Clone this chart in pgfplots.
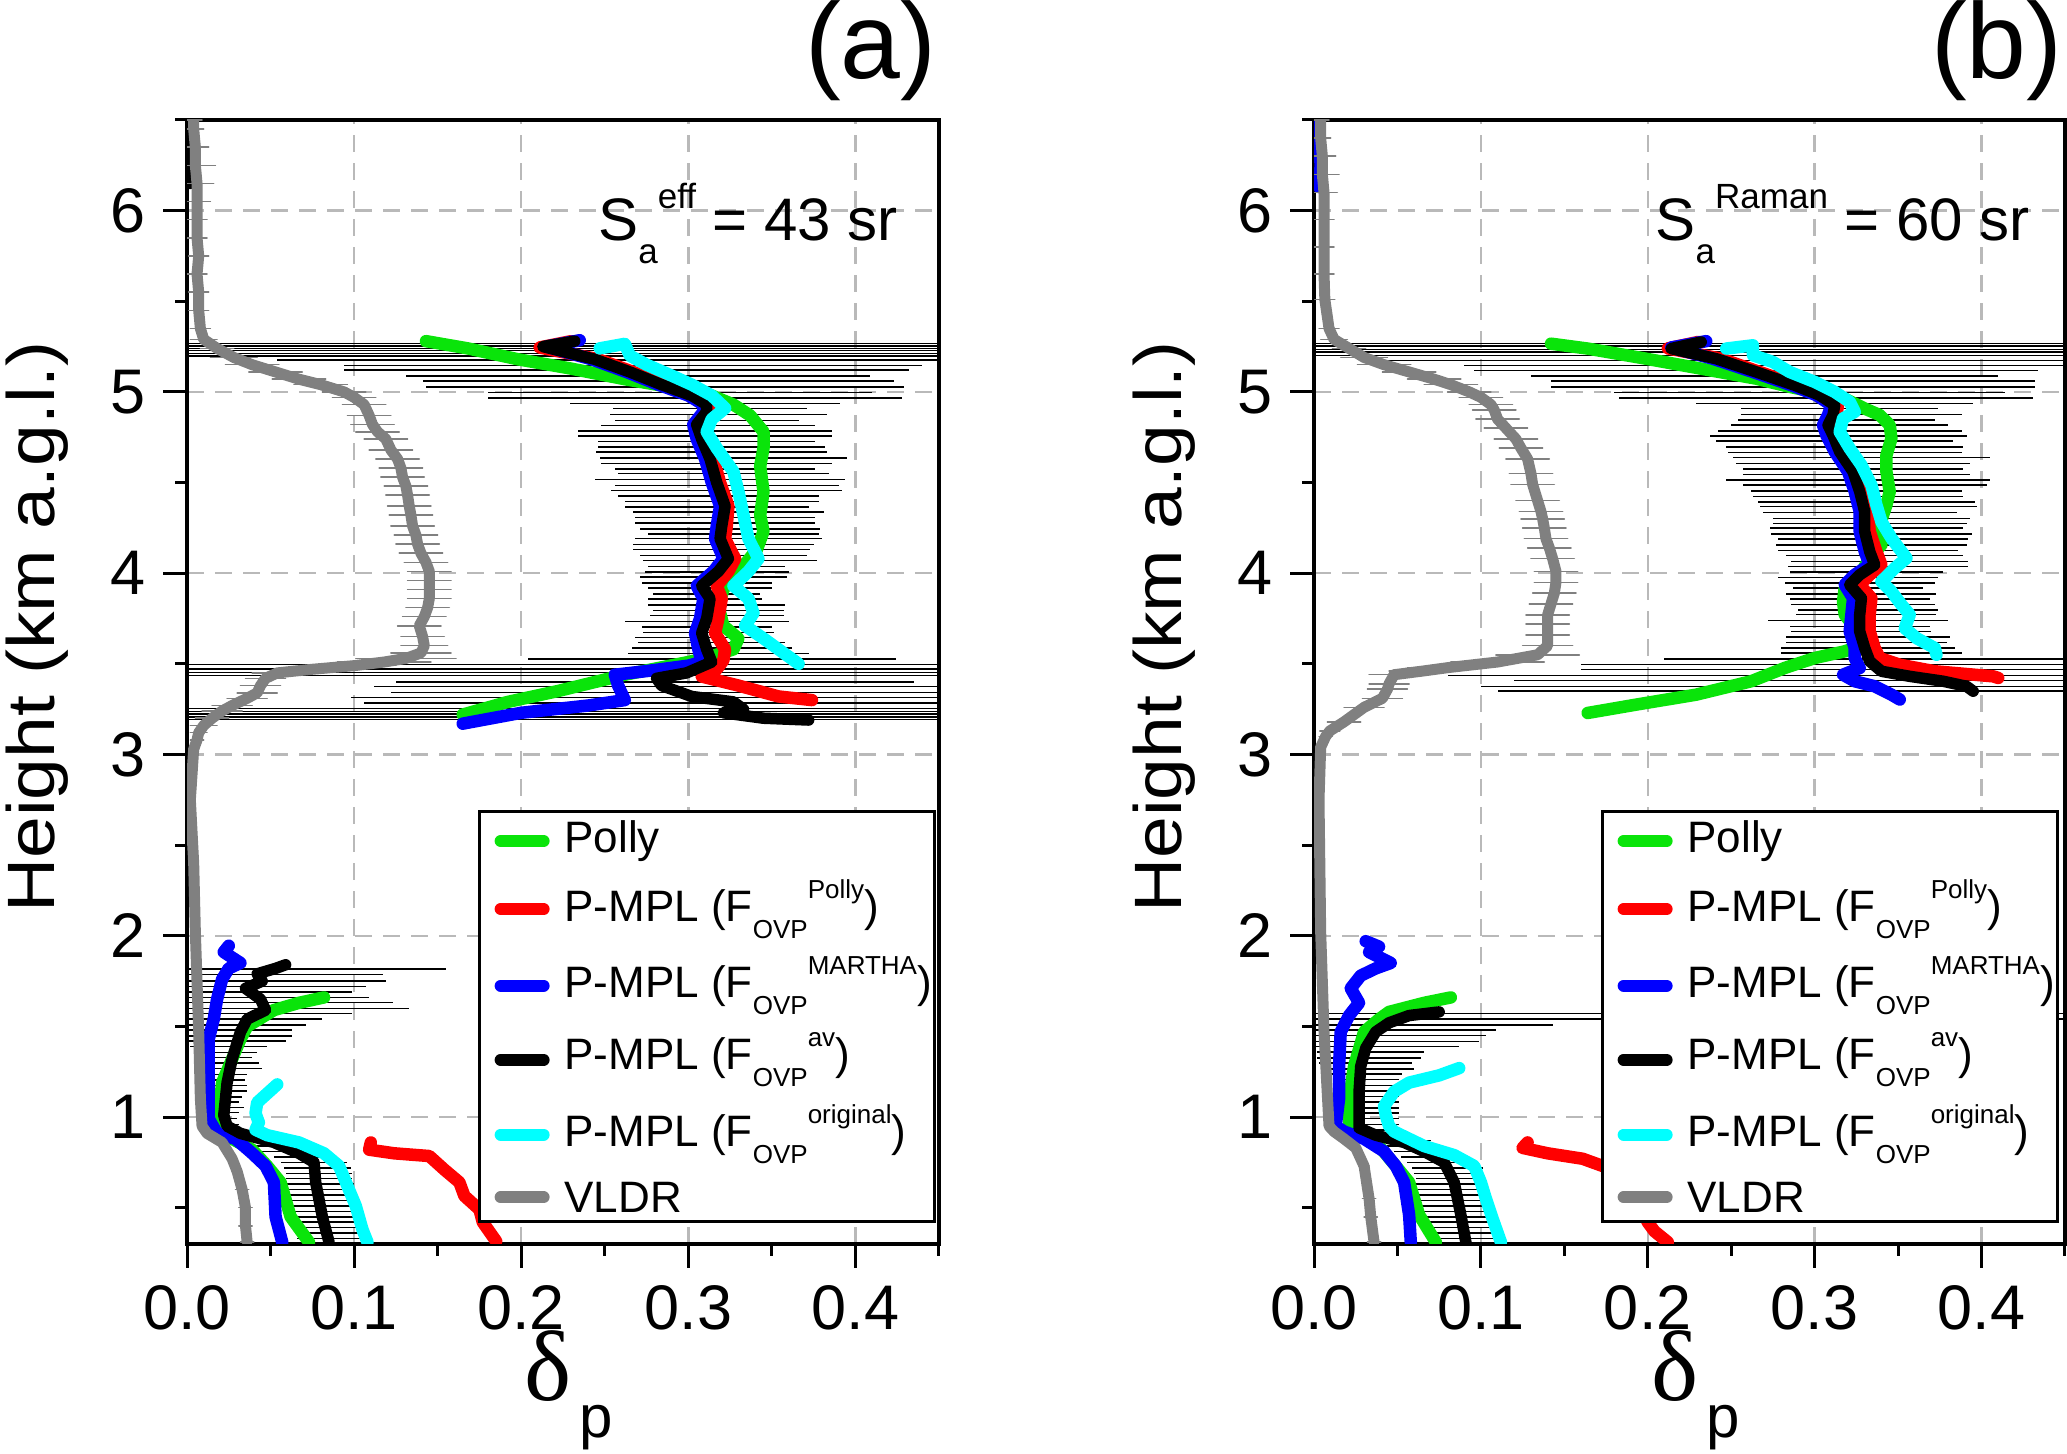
\documentclass[border=0pt]{standalone}
\usepackage{fontspec}
\setmainfont{Liberation Sans}
\newfontfamily\serifdelta{Liberation Serif}
\usepackage{graphicx}
\usepackage{pgfplots}
\usepackage{pgfplotstable}
\pgfplotsset{compat=1.18}

\definecolor{cgreen}{RGB}{10,228,10}
\definecolor{cred}{RGB}{255,0,0}
\definecolor{cblue}{RGB}{0,0,255}
\definecolor{ccyan}{RGB}{0,255,255}
\definecolor{cgray}{RGB}{128,128,128}
\definecolor{gridgray}{RGB}{185,185,185}

\newcommand{\lsub}[1]{\raisebox{-3.4pt}{\fontsize{5.2}{6}\selectfont #1}}
\newcommand{\lsup}[1]{\raisebox{4.6pt}{\fontsize{5.2}{6}\selectfont #1}}
\newcommand{\asub}[1]{\raisebox{-4.6pt}{\fontsize{7}{8}\selectfont #1}}
\newcommand{\asup}[1]{\raisebox{6.4pt}{\fontsize{7}{8}\selectfont #1}}

% ---------------- panel (a) data ----------------
\pgfplotstableread{
x y
0.143 5.28
0.168 5.24
0.198 5.18
0.229 5.13
0.262 5.07
0.281 5.04
0.314 4.98
0.327 4.93
0.337 4.87
0.345 4.78
0.345 4.69
0.343 4.59
0.345 4.45
0.343 4.32
0.345 4.23
0.341 4.13
0.333 4.04
0.327 3.99
0.321 3.91
0.318 3.82
0.321 3.71
0.330 3.64
0.327 3.58
0.310 3.53
0.300 3.51
0.262 3.44
0.222 3.35
0.192 3.29
0.165 3.22
nan nan
0.082 1.66
0.067 1.63
0.052 1.59
0.036 1.50
0.032 1.43
0.027 1.32
0.021 1.19
0.019 1.01
0.021 0.91
0.039 0.82
0.048 0.73
0.056 0.64
0.062 0.45
0.073 0.31
}\greenA

\pgfplotstableread{
x y
0.230 5.28
0.211 5.245
0.246 5.18
0.267 5.11
0.286 5.04
0.304 4.98
0.313 4.93
0.313 4.89
0.307 4.82
0.310 4.74
0.315 4.63
0.319 4.50
0.324 4.37
0.323 4.26
0.322 4.19
0.328 4.08
0.324 4.01
0.317 3.93
0.320 3.86
0.318 3.75
0.316 3.67
0.322 3.58
0.321 3.52
0.317 3.47
0.308 3.43
0.330 3.38
0.354 3.32
0.374 3.30
nan nan
0.110 0.86
0.109 0.82
0.124 0.80
0.145 0.785
0.154 0.71
0.163 0.64
0.166 0.565
0.175 0.49
0.177 0.42
0.185 0.315
}\redA

\pgfplotstableread{
x y
0.235 5.285
0.215 5.25
0.242 5.18
0.263 5.11
0.282 5.04
0.300 4.98
0.309 4.93
0.309 4.89
0.303 4.82
0.305 4.74
0.310 4.63
0.314 4.50
0.319 4.37
0.317 4.26
0.316 4.19
0.321 4.08
0.315 4.01
0.305 3.93
0.309 3.86
0.307 3.75
0.304 3.67
0.306 3.58
0.308 3.51
0.300 3.49
0.275 3.46
0.256 3.44
0.258 3.38
0.262 3.30
0.240 3.27
0.200 3.23
0.165 3.17
nan nan
0.025 1.945
0.022 1.91
0.032 1.85
0.025 1.82
0.021 1.76
0.018 1.65
0.016 1.54
0.013 1.43
0.013 1.28
0.013 1.10
0.013 0.99
0.018 0.91
0.029 0.88
0.039 0.80
0.047 0.73
0.052 0.64
0.053 0.45
0.057 0.31
}\blueA

\pgfplotstableread{
x y
0.002 6.50
0.003 6.42
0.002 6.33
0.003 6.24
0.002 6.15
nan nan
0.232 5.28
0.213 5.25
0.244 5.18
0.265 5.11
0.284 5.04
0.302 4.98
0.311 4.93
0.311 4.89
0.305 4.82
0.308 4.74
0.313 4.63
0.317 4.50
0.322 4.37
0.320 4.26
0.319 4.19
0.324 4.08
0.318 4.01
0.308 3.93
0.313 3.86
0.311 3.75
0.308 3.67
0.311 3.58
0.314 3.51
0.299 3.45
0.281 3.42
0.284 3.38
0.302 3.32
0.327 3.29
0.333 3.25
0.321 3.23
0.345 3.20
0.372 3.19
nan nan
0.059 1.84
0.053 1.82
0.042 1.79
0.045 1.75
0.035 1.71
0.044 1.65
0.047 1.59
0.036 1.54
0.032 1.47
0.027 1.32
0.024 1.19
0.022 1.01
0.024 0.95
0.032 0.91
0.052 0.86
0.067 0.80
0.076 0.75
0.077 0.64
0.081 0.45
0.085 0.31
}\blackA

\pgfplotstableread{
x y
0.247 5.24
0.262 5.265
0.265 5.20
0.275 5.15
0.290 5.09
0.302 5.04
0.314 4.98
0.322 4.91
0.314 4.85
0.311 4.78
0.317 4.69
0.327 4.56
0.330 4.45
0.333 4.32
0.336 4.19
0.342 4.08
0.336 4.01
0.327 3.93
0.336 3.86
0.339 3.78
0.334 3.71
0.345 3.64
0.357 3.56
0.366 3.50
nan nan
0.054 1.18
0.048 1.13
0.042 1.08
0.041 1.02
0.043 0.97
0.041 0.93
0.048 0.90
0.067 0.86
0.082 0.80
0.091 0.73
0.096 0.62
0.101 0.51
0.105 0.38
0.108 0.31
}\cyanA

\pgfplotstableread{
x y e
0.036 0.31 0.004
0.035 0.40 0.004
0.035 0.50 0.004
0.033 0.60 0.004
0.030 0.70 0.003
0.027 0.77 0.003
0.021 0.86 0.003
0.012 0.91 0.002
0.009 0.95 0.002
0.008 1.10 0.002
0.007 1.47 0.002
0.005 2.02 0.002
0.004 2.40 0.002
0.002 2.75 0.002
0.004 3.03 0.003
0.006 3.08 0.004
0.007 3.12 0.005
0.010 3.16 0.008
0.015 3.20 0.010
0.021 3.24 0.012
0.027 3.27 0.012
0.036 3.31 0.012
0.042 3.34 0.012
0.044 3.38 0.012
0.047 3.42 0.012
0.054 3.45 0.015
0.075 3.47 0.020
0.100 3.49 0.025
0.118 3.51 0.028
0.131 3.53 0.030
0.140 3.56 0.018
0.142 3.60 0.014
0.141 3.65 0.013
0.139 3.71 0.013
0.142 3.76 0.013
0.144 3.81 0.013
0.145 3.86 0.013
0.145 3.91 0.013
0.145 3.96 0.013
0.145 4.01 0.013
0.143 4.06 0.013
0.140 4.11 0.013
0.138 4.16 0.013
0.137 4.21 0.013
0.135 4.26 0.013
0.134 4.32 0.013
0.133 4.37 0.013
0.132 4.43 0.013
0.131 4.48 0.013
0.129 4.53 0.013
0.128 4.58 0.013
0.126 4.63 0.013
0.122 4.68 0.013
0.119 4.74 0.013
0.114 4.78 0.013
0.111 4.82 0.013
0.109 4.87 0.013
0.106 4.93 0.013
0.100 4.97 0.013
0.094 5.00 0.013
0.080 5.04 0.016
0.067 5.07 0.016
0.053 5.11 0.016
0.039 5.15 0.016
0.028 5.19 0.014
0.018 5.24 0.010
0.010 5.29 0.008
0.008 5.35 0.006
0.007 5.45 0.006
0.007 5.55 0.006
0.006 5.65 0.006
0.007 5.75 0.006
0.006 5.85 0.006
0.006 5.95 0.006
0.006 6.05 0.008
0.006 6.15 0.010
0.005 6.25 0.012
0.005 6.35 0.008
0.004 6.45 0.006
0.004 6.50 0.005
}\grayA

\pgfplotstableread{
x y e
0.2 5.267 0.5
0.2 5.252 0.5
0.2 5.239 0.5
0.2 5.227 0.5
0.2 5.212 0.5
0.2 5.199 0.5
0.277 5.175 0.223
0.267 5.147 0.173
0.263 5.120 0.169
0.270 5.088 0.139
0.282 5.059 0.141
0.286 5.028 0.143
0.295 4.996 0.115
0.304 4.967 0.124
0.310 4.936 0.081
0.313 4.908 0.058
0.318 4.875 0.065
0.311 4.843 0.055
0.312 4.816 0.064
0.310 4.783 0.076
0.310 4.757 0.076
0.311 4.727 0.065
0.314 4.696 0.068
0.314 4.669 0.069
0.321 4.635 0.074
0.317 4.604 0.069
0.316 4.576 0.060
0.321 4.549 0.063
0.319 4.516 0.075
0.323 4.484 0.067
0.323 4.457 0.069
0.318 4.425 0.060
0.320 4.396 0.058
0.317 4.365 0.055
0.324 4.337 0.057
0.322 4.306 0.054
0.322 4.278 0.054
0.325 4.245 0.054
0.327 4.217 0.051
0.324 4.190 0.056
0.321 4.158 0.054
0.320 4.131 0.053
0.321 4.098 0.050
0.325 4.070 0.052
0.317 4.037 0.041
0.317 4.006 0.043
0.315 3.978 0.044
0.311 3.945 0.039
0.313 3.917 0.037
0.311 3.886 0.032
0.310 3.858 0.034
0.317 3.825 0.041
0.318 3.794 0.039
0.317 3.766 0.040
0.311 3.733 0.049
0.311 3.702 0.039
0.312 3.674 0.039
0.309 3.646 0.041
0.314 3.619 0.044
0.314 3.587 0.048
0.318 3.558 0.054
0.314 3.527 0.110
0.2 3.495 0.5
0.2 3.471 0.5
0.2 3.453 0.5
0.2 3.435 0.5
0.280 3.401 0.155
0.306 3.374 0.194
0.311 3.343 0.189
0.299 3.315 0.201
0.303 3.284 0.197
0.2 3.254 0.5
0.2 3.238 0.5
0.2 3.223 0.5
0.2 3.206 0.5
0.2 3.192 0.5
0.078 1.816 0.077
0.059 1.785 0.058
0.060 1.751 0.059
0.054 1.720 0.053
0.050 1.691 0.049
0.055 1.659 0.054
0.062 1.632 0.061
0.067 1.600 0.066
0.050 1.571 0.049
0.041 1.540 0.040
0.036 1.508 0.035
0.032 1.481 0.031
0.032 1.448 0.031
0.030 1.420 0.029
0.025 1.389 0.023
0.023 1.355 0.019
0.022 1.328 0.017
0.025 1.297 0.018
0.028 1.267 0.017
0.024 1.236 0.012
0.023 1.204 0.012
0.024 1.175 0.012
0.024 1.144 0.012
0.022 1.112 0.011
0.021 1.083 0.010
0.023 1.052 0.011
0.021 1.024 0.010
0.021 0.991 0.009
0.022 0.959 0.009
0.026 0.930 0.010
0.034 0.900 0.012
0.047 0.870 0.015
0.056 0.840 0.017
0.063 0.810 0.018
0.071 0.780 0.019
0.076 0.750 0.020
0.078 0.720 0.020
0.079 0.690 0.020
0.079 0.660 0.020
0.080 0.630 0.020
0.080 0.600 0.020
0.081 0.570 0.020
0.081 0.540 0.020
0.081 0.510 0.020
0.082 0.480 0.020
0.082 0.450 0.020
0.083 0.420 0.020
0.084 0.390 0.020
0.085 0.360 0.020
0.086 0.330 0.020
}\ebarA

% ---------------- panel (b) data ----------------
\pgfplotstableread{
x y
0.142 5.266
0.164 5.239
0.199 5.183
0.232 5.128
0.265 5.073
0.285 5.028
0.318 4.963
0.330 4.908
0.339 4.872
0.345 4.817
0.346 4.743
0.343 4.651
0.343 4.560
0.345 4.450
0.343 4.376
0.339 4.266
0.340 4.156
0.333 4.083
0.327 3.991
0.318 3.917
0.317 3.844
0.318 3.771
0.326 3.679
0.330 3.606
0.318 3.569
0.300 3.532
0.282 3.477
0.262 3.404
0.229 3.330
0.193 3.275
0.164 3.229
nan nan
0.082 1.66
0.066 1.63
0.045 1.58
0.039 1.54
0.030 1.47
0.024 1.28
0.021 1.10
0.021 0.95
0.024 0.92
0.039 0.84
0.049 0.73
0.057 0.64
0.063 0.46
0.073 0.31
}\greenB

\pgfplotstableread{
x y
0.230 5.275
0.212 5.240
0.244 5.183
0.267 5.110
0.290 5.037
0.305 4.982
0.314 4.927
0.313 4.872
0.310 4.817
0.313 4.761
0.317 4.670
0.325 4.560
0.329 4.450
0.332 4.339
0.333 4.229
0.337 4.119
0.340 4.046
0.333 3.991
0.327 3.936
0.334 3.862
0.333 3.771
0.333 3.679
0.336 3.587
0.339 3.532
0.351 3.495
0.372 3.459
0.407 3.431
0.410 3.422
nan nan
0.128 0.86
0.125 0.83
0.140 0.80
0.161 0.77
0.176 0.72
0.182 0.68
0.191 0.59
0.196 0.50
0.200 0.42
0.204 0.37
0.212 0.31
}\redB

\pgfplotstableread{
x y
0.003 6.50
0.003 6.38
0.004 6.25
0.003 6.13
nan nan
0.235 5.280
0.214 5.245
0.239 5.183
0.263 5.110
0.286 5.037
0.301 4.982
0.310 4.927
0.308 4.872
0.305 4.817
0.307 4.761
0.312 4.670
0.320 4.560
0.324 4.450
0.327 4.339
0.327 4.229
0.330 4.119
0.333 4.046
0.324 3.991
0.318 3.936
0.323 3.862
0.322 3.771
0.321 3.679
0.324 3.587
0.324 3.532
0.327 3.477
0.317 3.440
0.324 3.404
0.336 3.376
0.346 3.330
0.351 3.303
nan nan
0.031 1.97
0.039 1.94
0.033 1.91
0.046 1.85
0.037 1.82
0.028 1.78
0.022 1.71
0.027 1.63
0.021 1.56
0.016 1.47
0.015 1.28
0.015 1.10
0.013 0.95
0.018 0.92
0.030 0.88
0.042 0.81
0.049 0.73
0.054 0.64
0.057 0.46
0.058 0.31
}\blueB

\pgfplotstableread{
x y
0.232 5.275
0.214 5.239
0.241 5.183
0.265 5.110
0.288 5.037
0.303 4.982
0.312 4.927
0.311 4.872
0.308 4.817
0.311 4.761
0.315 4.670
0.323 4.560
0.327 4.450
0.330 4.339
0.330 4.229
0.333 4.119
0.336 4.046
0.327 3.991
0.321 3.936
0.328 3.862
0.327 3.771
0.327 3.679
0.330 3.587
0.333 3.514
0.340 3.459
0.357 3.431
0.377 3.404
0.391 3.376
0.395 3.349
nan nan
0.075 1.58
0.057 1.56
0.045 1.52
0.037 1.47
0.031 1.38
0.028 1.28
0.027 1.14
0.027 1.01
0.027 0.94
0.037 0.90
0.054 0.86
0.066 0.81
0.078 0.75
0.084 0.64
0.088 0.46
0.091 0.31
}\blackB

\pgfplotstableread{
x y
0.247 5.239
0.263 5.257
0.263 5.202
0.275 5.165
0.285 5.110
0.300 5.055
0.312 5.000
0.321 4.945
0.324 4.890
0.317 4.853
0.315 4.780
0.321 4.688
0.328 4.596
0.334 4.486
0.337 4.376
0.340 4.284
0.346 4.193
0.355 4.083
0.348 4.028
0.340 3.954
0.346 3.899
0.352 3.826
0.357 3.771
0.354 3.697
0.361 3.642
0.372 3.587
0.373 3.550
nan nan
0.087 1.27
0.075 1.23
0.057 1.19
0.048 1.14
0.042 1.06
0.043 1.01
0.045 0.95
0.048 0.92
0.066 0.84
0.084 0.79
0.096 0.73
0.100 0.64
0.103 0.55
0.107 0.44
0.112 0.31
}\cyanB

\pgfplotstableread{
x y e
0.036 0.31 0.004
0.034 0.45 0.004
0.033 0.55 0.004
0.030 0.73 0.003
0.025 0.83 0.003
0.018 0.88 0.003
0.012 0.92 0.002
0.009 0.95 0.002
0.006 1.47 0.002
0.004 2.02 0.002
0.003 2.75 0.002
0.004 3.04 0.003
0.007 3.10 0.004
0.0095 3.13 0.006
0.018 3.18 0.010
0.030 3.26 0.012
0.041 3.31 0.012
0.044 3.36 0.012
0.045 3.39 0.012
0.048 3.44 0.015
0.065 3.46 0.020
0.081 3.48 0.025
0.110 3.51 0.028
0.134 3.55 0.025
0.140 3.60 0.015
0.140 3.66 0.013
0.140 3.72 0.013
0.140 3.77 0.013
0.142 3.83 0.013
0.144 3.89 0.013
0.145 3.95 0.013
0.145 4.01 0.013
0.143 4.08 0.013
0.141 4.14 0.013
0.139 4.19 0.013
0.138 4.25 0.013
0.137 4.30 0.013
0.136 4.34 0.013
0.134 4.40 0.013
0.131 4.49 0.013
0.130 4.55 0.013
0.128 4.63 0.013
0.124 4.69 0.013
0.121 4.74 0.013
0.115 4.80 0.013
0.110 4.85 0.013
0.108 4.90 0.013
0.106 4.93 0.013
0.100 4.97 0.013
0.093 5.00 0.013
0.082 5.04 0.016
0.072 5.07 0.016
0.057 5.11 0.016
0.042 5.15 0.016
0.030 5.19 0.014
0.021 5.24 0.010
0.012 5.29 0.008
0.009 5.35 0.006
0.0065 5.51 0.006
0.006 5.65 0.006
0.006 5.80 0.006
0.006 5.95 0.006
0.006 6.10 0.008
0.005 6.20 0.010
0.005 6.30 0.008
0.004 6.40 0.006
0.004 6.50 0.005
}\grayB

\pgfplotstableread{
x y e
0.2 5.266 0.5
0.2 5.252 0.5
0.2 5.235 0.5
0.2 5.220 0.5
0.2 5.202 0.5
0.26 5.174 0.23
0.28 5.147 0.19
0.265 5.119 0.169
0.270 5.088 0.140
0.287 5.059 0.145
0.287 5.028 0.145
0.297 4.996 0.117
0.307 4.967 0.124
0.312 4.936 0.083
0.315 4.908 0.059
0.322 4.875 0.066
0.313 4.844 0.059
0.315 4.817 0.065
0.315 4.785 0.073
0.314 4.758 0.077
0.312 4.728 0.071
0.318 4.697 0.071
0.318 4.666 0.070
0.328 4.637 0.077
0.323 4.606 0.070
0.323 4.574 0.066
0.325 4.545 0.068
0.326 4.514 0.079
0.330 4.486 0.073
0.325 4.453 0.063
0.326 4.422 0.063
0.331 4.394 0.065
0.332 4.367 0.065
0.327 4.334 0.058
0.334 4.303 0.059
0.333 4.275 0.058
0.331 4.248 0.058
0.334 4.217 0.060
0.335 4.189 0.057
0.334 4.156 0.057
0.332 4.125 0.054
0.336 4.097 0.053
0.339 4.064 0.053
0.338 4.037 0.054
0.331 4.006 0.046
0.326 3.976 0.048
0.327 3.945 0.045
0.326 3.917 0.039
0.328 3.886 0.045
0.327 3.857 0.042
0.329 3.826 0.043
0.332 3.798 0.042
0.331 3.771 0.042
0.326 3.738 0.054
0.327 3.706 0.042
0.328 3.679 0.042
0.332 3.648 0.049
0.331 3.618 0.048
0.332 3.587 0.052
0.334 3.560 0.054
0.36 3.528 0.15
0.33 3.495 0.17
0.33 3.468 0.17
0.29 3.437 0.21
0.31 3.407 0.19
0.30 3.376 0.20
0.31 3.349 0.20
0.2 1.570 0.5
0.2 1.540 0.5
0.072 1.508 0.071
0.055 1.481 0.054
0.052 1.450 0.051
0.050 1.418 0.049
0.044 1.389 0.043
0.034 1.358 0.032
0.033 1.327 0.031
0.031 1.297 0.028
0.032 1.266 0.028
0.030 1.237 0.023
0.033 1.206 0.018
0.033 1.174 0.018
0.033 1.143 0.018
0.033 1.114 0.018
0.033 1.083 0.018
0.033 1.051 0.018
0.033 1.022 0.018
0.033 0.991 0.018
0.033 0.960 0.018
0.035 0.930 0.017
0.045 0.900 0.015
0.053 0.870 0.017
0.060 0.840 0.016
0.065 0.810 0.017
0.070 0.780 0.018
0.076 0.750 0.020
0.080 0.720 0.021
0.081 0.690 0.021
0.082 0.660 0.021
0.082 0.630 0.021
0.083 0.600 0.021
0.083 0.570 0.021
0.084 0.540 0.021
0.084 0.510 0.021
0.085 0.480 0.021
0.086 0.450 0.021
0.086 0.420 0.021
0.087 0.390 0.021
0.088 0.360 0.021
0.089 0.330 0.021
}\ebarB

\pgfplotsset{
  myaxis/.style={
    scale only axis, height=224.8pt,
    xmin=0, xmax=0.45, ymin=0.3, ymax=6.5,
    xtick={0,0.1,0.2,0.3,0.4}, xticklabels={0.0,0.1,0.2,0.3,0.4},
    ytick={1,2,3,4,5,6}, yticklabels={1,2,3,4,5,6},
    minor xtick={0.05,0.15,0.25,0.35,0.45},
    minor ytick={0.5,1.5,2.5,3.5,4.5,5.5,6.5},
    tick pos=left, tick align=outside,
    major tick length=4.8pt, minor tick length=2.4pt,
    tick style={line width=0.6pt, black},
    axis line style={line width=0.65pt},
    grid=major,
    major grid style={dash pattern=on 3.4pt off 2.2pt, line width=0.5pt, gridgray},
    tick label style={font=\fontsize{12.6}{13}\selectfont},
    unbounded coords=jump,
    legend cell align=left,
    legend style={anchor=south east, draw=black, line width=0.5pt, fill=white,
      inner xsep=0.3pt, inner ysep=0pt, row sep=0pt, column sep=2.7pt,
      font=\fontsize{8.8}{10}\selectfont,
      nodes={inner xsep=0.3pt, inner ysep=1.8pt, text depth={}}},
    legend image code/.code={\path (0pt,0pt); \draw[##1, line width=2.4pt, line cap=round] (2.7pt,0pt) -- (11.3pt,0pt);},
  },
  ln/.style={line width=2.5pt, line join=round, line cap=round, mark=none},
  lnk/.style={line width=2.3pt, line join=round, line cap=round, mark=none},
  lng/.style={line width=2.2pt, line join=round, line cap=round, mark=none},
  ebar/.style={forget plot, only marks, mark=*, mark size=0.01pt, mark options={draw opacity=0, fill opacity=0}, black},
}

\begin{document}
\begin{tikzpicture}
% ================= panel (a) =================
\begin{axis}[myaxis, name=A, width=150.4pt, at={(37.4pt,42pt)}, anchor=south west,
  legend style={at={(rel axis cs:0.996,0.019)}}]
\addplot[ebar, error bars/.cd, x dir=both, x explicit, error mark=none, error bar style={line width=0.3pt, black, solid, draw opacity=1}] table[x=x, y=y, x error=e] {\ebarA};
\addplot[ln, cgreen] table[x=x, y=y] {\greenA};
\addlegendentry{Polly}
\addplot[ln, cred] table[x=x, y=y] {\redA};
\addlegendentry{P-MPL (F\lsub{OVP}\lsup{Polly})}
\addplot[ln, cblue] table[x=x, y=y] {\blueA};
\addlegendentry{P-MPL (F\lsub{OVP}\lsup{MARTHA})}
\addplot[lnk, black] table[x=x, y=y] {\blackA};
\addlegendentry{P-MPL (F\lsub{OVP}\lsup{av})}
\addplot[ln, ccyan] table[x=x, y=y] {\cyanA};
\addlegendentry{P-MPL (F\lsub{OVP}\lsup{original})}
\addplot[lng, cgray, error bars/.cd, x dir=both, x explicit, error mark=none, error bar style={line width=0.3pt, cgray, solid}] table[x=x, y=y, x error=e] {\grayA};
\addlegendentry{VLDR}
\node[anchor=base east, inner sep=0, font=\fontsize{12}{13}\selectfont] at (axis cs:0.426,5.833) {S\asub{a}\asup{eff} = 43 sr};
\end{axis}
\node[anchor=base east, inner sep=0, font=\fontsize{21.5}{22}\selectfont] at ([xshift=-0.3pt, yshift=8.2pt]A.north east) {(a)};
\node[rotate=90, inner sep=0, font=\fontsize{13.4}{14}\selectfont] at ([xshift=-30pt, yshift=11pt]A.west) {\scalebox{1.12}[1]{Height (km a.g.l.)}};
\node[anchor=base, inner sep=0] at ([xshift=1.2pt, yshift=-31.4pt]A.south) {{\serifdelta\fontsize{20}{20}\selectfont δ}\hspace{1.6pt}\raisebox{-7.4pt}{\fontsize{12}{12}\selectfont p}};

% ================= panel (b) =================
\begin{axis}[myaxis, name=B, width=150.2pt, at={(262.8pt,42pt)}, anchor=south west,
  legend style={at={(rel axis cs:0.992,0.019)}}]
\addplot[ebar, error bars/.cd, x dir=both, x explicit, error mark=none, error bar style={line width=0.3pt, black, solid, draw opacity=1}] table[x=x, y=y, x error=e] {\ebarB};
\addplot[ln, cgreen] table[x=x, y=y] {\greenB};
\addlegendentry{Polly}
\addplot[ln, cred] table[x=x, y=y] {\redB};
\addlegendentry{P-MPL (F\lsub{OVP}\lsup{Polly})}
\addplot[ln, cblue] table[x=x, y=y] {\blueB};
\addlegendentry{P-MPL (F\lsub{OVP}\lsup{MARTHA})}
\addplot[lnk, black] table[x=x, y=y] {\blackB};
\addlegendentry{P-MPL (F\lsub{OVP}\lsup{av})}
\addplot[ln, ccyan] table[x=x, y=y] {\cyanB};
\addlegendentry{P-MPL (F\lsub{OVP}\lsup{original})}
\addplot[lng, cgray, error bars/.cd, x dir=both, x explicit, error mark=none, error bar style={line width=0.3pt, cgray, solid}] table[x=x, y=y, x error=e] {\grayB};
\addlegendentry{VLDR}
\node[anchor=base east, inner sep=0, font=\fontsize{12}{13}\selectfont] at (axis cs:0.4295,5.833) {S\asub{a}\asup{Raman} = 60 sr};
\end{axis}
\node[anchor=base east, inner sep=0, font=\fontsize{21.5}{22}\selectfont] at ([xshift=-0.3pt, yshift=8.2pt]B.north east) {(b)};
\node[rotate=90, inner sep=0, font=\fontsize{13.4}{14}\selectfont] at ([xshift=-30pt, yshift=11pt]B.west) {\scalebox{1.12}[1]{Height (km a.g.l.)}};
\node[anchor=base, inner sep=0] at ([xshift=1.2pt, yshift=-31.4pt]B.south) {{\serifdelta\fontsize{20}{20}\selectfont δ}\hspace{1.6pt}\raisebox{-7.4pt}{\fontsize{12}{12}\selectfont p}};

\pgfresetboundingbox
\useasboundingbox (0pt,0pt) rectangle (413.4pt,290.8pt);
\end{tikzpicture}
\end{document}
